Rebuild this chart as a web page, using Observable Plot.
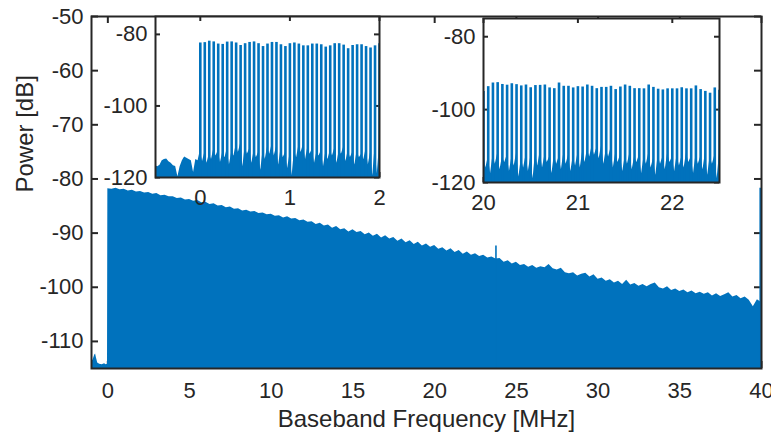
<!DOCTYPE html>
<html><head><meta charset="utf-8">
<script src="https://cdn.jsdelivr.net/npm/d3@7"></script>
<script src="https://cdn.jsdelivr.net/npm/@observablehq/plot@0.6"></script>
<style>
body{margin:0;background:#fff;}
#chart{position:relative;width:771px;height:432px;overflow:hidden;background:#fff;}
#chart svg{position:absolute;}
</style></head><body><div id="chart"></div>
<script>
// ---------------- data ----------------
const xLabel = ["Baseband Frequency [MHz]"];
const yLabel = ["Power [dB]"];
const mainXTicks = [0, 5, 10, 15, 20, 25, 30, 35, 40];
const mainYTicks = [-110, -100, -90, -80, -70, -60, -50];
const inset1XTicks = [0, 1, 2];
const inset2XTicks = [20, 21, 22];
const insetYTicks = [-120, -100, -80];

// main plot: noise below 0 MHz
const lowFreq  = [-1.0, -0.9, -0.8, -0.75, -0.7, -0.62, -0.5, -0.35, -0.2, -0.1, -0.02];
const lowPower = [-113.9, -113.4, -112.5, -112.3, -113.0, -114.0, -114.2, -114.3, -114.1, -114.3, -114.2];
// main plot: comb envelope from 0 to 40 MHz, every 0.25 MHz
const envStart = 0, envStep = 0.25;
const envPower = [
  -81.8, -81.9, -81.7, -82.0,   -81.9, -82.2, -82.1, -82.4,
  -82.3, -82.6, -82.5, -82.8,   -82.7, -83.1, -83.0, -83.3,
  -83.3, -83.6, -83.5, -83.9,   -83.8, -84.1, -84.0, -84.4,
  -84.3, -84.7, -84.6, -85.0,   -84.9, -85.3, -85.2, -85.6,
  -85.5, -85.9, -85.8, -86.1,   -86.0, -86.4, -86.3, -86.6,
  -86.5, -86.9, -86.8, -87.2,   -87.0, -87.4, -87.3, -87.7,
  -87.6, -88.0, -87.9, -88.4,   -88.2, -88.7, -88.5, -89.1,
  -88.8, -89.4, -89.2, -89.8,   -89.4, -89.9, -89.7, -90.3,
  -90.0, -90.6, -90.2, -90.9,   -90.5, -91.1, -90.8, -91.5,
  -91.1, -91.8, -91.4, -92.1,   -91.7, -92.4, -92.0, -92.6,
  -92.3, -93.0, -92.7, -93.3,   -92.9, -93.6, -93.2, -93.9,
  -93.5, -94.1, -93.8, -94.3,   -94.1, -94.6, -94.4, -94.8,
  -94.7, -95.4, -95.1, -95.7,   -95.4, -96.0, -95.8, -96.3,
  -96.0, -96.5, -96.2, -96.4,   -95.8, -96.6, -96.8, -96.5,
  -97.3, -97.5, -97.3, -97.9,   -97.6, -97.4, -98.1, -97.7,
  -98.5, -98.3, -98.9, -98.6,   -99.2, -98.9, -99.5, -98.7,
  -99.6, -99.3, -99.8, -99.5,   -99.9, -99.5, -99.2, -100.1,
  -100.3, -99.9, -100.6, -100.3, -100.8, -100.5, -101.0, -100.7,
  -101.2, -100.9, -101.3, -101.0, -101.6, -101.2, -101.7, -101.4,
  -101.0, -101.8, -101.5, -102.1, -101.8, -102.4, -103.6, -102.3,
  -102.8
];
// isolated spikes in the main plot
const spikeFreq  = [23.75, 39.92];
const spikePower = [-92.4, -81.7];

// inset 1 (-0.5 .. 2 MHz)
const inset1LineStart = 0, lineStep = 0.05;
const inset1Lines = [
  -82.4, -82.3, -81.9, -82.1, -82.7, -82.8, -82.15, -82.1, -82.4, -83.1,
  -82.6, -82.25, -82.1, -82.6, -83.4, -82.7, -82.25, -82.25, -82.9, -83.4,
  -82.6, -82.4, -82.7, -83.2, -83.2, -82.7, -82.7, -82.9, -83.55, -83.2,
  -82.6, -82.6, -83.0, -84.0, -83.1, -82.9, -82.9, -83.4, -83.8, -83.2,
  -82.6
];
const inset1NoiseStart = -0.5, noiseStep = 0.025;
const inset1Noise = [
  -116.7, -117.0, -116.6, -115.3, -115.0, -114.8, -115.6, -116.0, -116.7, -116.9,
  -119.8, -117.0, -115.3, -114.3, -114.6, -115.0, -115.3, -118.6, -115.0, -115.3,
  -112.5, -115.5, -113, -116, -113.5, -115, -112, -114, -112.5, -115.8,
  -113, -114.5, -112, -116.5, -113, -114, -111, -113, -110.5, -117,
  -111.5, -113.5, -112, -116, -112.5, -114.5, -113, -118, -112.5, -115,
  -111.5, -113.5, -110.8, -114, -111.5, -116.5, -112, -114.5, -113, -117.5,
  -113.5, -119.5, -112.5, -114.5, -111, -113, -110.8, -115, -111.5, -113.5,
  -112, -116, -113, -114, -112.5, -117, -113, -115, -112.5, -114,
  -111.8, -116, -112.5, -113.5, -111.5, -115.5, -112.5, -114.5, -113, -116.5,
  -112.5, -114.5, -113.5, -115, -112, -116.5, -113, -119.5, -111.5, -119,
  -111
];

// inset 2 (20 .. 22.5 MHz)
const inset2LineStart = 20;
const inset2Lines = [
  -95.0, -93.7, -92.7, -92.6, -93.1, -93.3, -92.9, -93.15, -93.5, -93.25,
  -94.0, -93.4, -93.35, -93.25, -94.05, -94.25, -92.7, -93.6, -93.6, -94.05,
  -93.7, -93.8, -93.25, -93.6, -94.25, -93.9, -93.9, -93.6, -94.5, -93.8,
  -93.25, -93.6, -94.25, -94.25, -94.3, -93.25, -93.9, -94.4, -94.6, -94.3,
  -94.3, -94.3, -94.0, -94.3, -94.3, -93.5, -94.5, -95.0, -95.5, -94.05,
  -94.7
];
const inset2NoiseStart = 20;
const inset2Noise = [
  -112, -116, -113, -117.5, -112.5, -115, -112, -116.5, -113, -114.5,
  -112.5, -117, -113, -115.5, -112, -118.5, -113.5, -116, -112.5, -117,
  -113, -119, -112, -115.5, -111.5, -116, -112.5, -114.5, -113, -117.5,
  -112.5, -115, -113, -116.5, -112, -115, -112.5, -117, -113, -115.5,
  -112, -116, -111.5, -114.5, -111, -113, -110, -112.5, -110.5, -113.5,
  -110, -115, -111, -113, -110.5, -116, -112, -114.5, -112.5, -117,
  -113, -115, -112, -116.5, -113, -114.5, -112.5, -117.5, -113, -115,
  -112, -116, -113.5, -118, -112.5, -115, -113, -116.5, -112, -114.5,
  -113, -117, -112.5, -115.5, -113, -116, -112, -114.5, -113, -117.5,
  -112.5, -115, -113, -116.5, -112, -118, -113, -115, -112.5, -119,
  -112
];

// ---------------- styling ----------------
const BLUE = "#0072BD", AX = "#262626";
const FONT = "'Liberation Sans', Arial, Helvetica, sans-serif";
const MAIN_FLOOR = -115, INSET_FLOOR = -120;
const TICK_FS = 22, LABEL_FS = 24;
const fmt = d => String(d);

const toRows = (start, step, arr) => arr.map((p, i) => ({f: +(start + i * step).toFixed(4), p}));
const mainData = [
  ...lowFreq.map((f, i) => ({f, p: lowPower[i]})),
  ...toRows(envStart, envStep, envPower)
];
const spikes = spikeFreq.map((f, i) => ({f, p: spikePower[i]}));

function tickMarks(xt, yt, W, H, len, sw) {
  return [
    Plot.ruleX(xt, {stroke: AX, strokeWidth: sw, insetTop: H - len}),
    Plot.ruleX(xt, {stroke: AX, strokeWidth: sw, insetBottom: H - len}),
    Plot.ruleY(yt, {stroke: AX, strokeWidth: sw, insetRight: W - len}),
    Plot.ruleY(yt, {stroke: AX, strokeWidth: sw, insetLeft: W - len})
  ];
}

const chart = document.getElementById("chart");

// main plot
const M = {l: 91, r: 10, t: 16, b: 64};
const MW = 771 - M.l - M.r, MH = 432 - M.t - M.b;
const main = Plot.plot({
  width: 771, height: 432,
  marginLeft: M.l, marginRight: M.r, marginTop: M.t, marginBottom: M.b,
  x: {domain: [-1, 40], label: null},
  y: {domain: [-115, -50], label: null},
  style: {fontFamily: FONT, fontSize: TICK_FS + "px", color: AX, background: "transparent", overflow: "visible"},
  marks: [
    ...tickMarks(mainXTicks, mainYTicks, MW, MH, 7, 2),
    Plot.areaY(mainData, {x: "f", y1: MAIN_FLOOR, y2: "p", fill: BLUE, clip: true}),
    Plot.ruleX(spikes, {x: "f", y1: MAIN_FLOOR, y2: "p", stroke: BLUE, strokeWidth: 1.6, clip: true}),
    Plot.frame({stroke: AX, strokeWidth: 2}),
    Plot.axisX(mainXTicks, {tickSize: 0, tickPadding: 14, tickFormat: fmt, label: null, fontSize: TICK_FS}),
    Plot.axisY(mainYTicks, {tickSize: 0, tickPadding: 8, tickFormat: fmt, label: null, fontSize: TICK_FS}),
    Plot.text(xLabel, {text: d => d, frameAnchor: "bottom", dy: 58, lineAnchor: "bottom", fontSize: LABEL_FS, fill: AX}),
    Plot.text(yLabel, {text: d => d, frameAnchor: "left", dx: -59, rotate: -90, lineAnchor: "bottom", fontSize: LABEL_FS, fill: AX})
  ]
});
main.style.left = "0px"; main.style.top = "0px";
chart.appendChild(main);

function inset(cfg) {
  const ml = 64, mr = 8, mt = 4, mb = 38;
  const svg = Plot.plot({
    width: cfg.w + ml + mr, height: cfg.h + mt + mb,
    marginLeft: ml, marginRight: mr, marginTop: mt, marginBottom: mb,
    x: {domain: cfg.xDomain, label: null},
    y: {domain: [-120, -75], label: null},
    style: {fontFamily: FONT, fontSize: TICK_FS + "px", color: AX, background: "transparent", overflow: "visible"},
    marks: [
      Plot.frame({fill: "white"}),
      ...tickMarks(cfg.xTicks, insetYTicks, cfg.w, cfg.h, 5, 2),
      Plot.areaY(cfg.noise, {x: "f", y1: INSET_FLOOR, y2: "p", fill: BLUE, clip: true}),
      Plot.ruleX(cfg.lines, {x: "f", y1: INSET_FLOOR, y2: "p", stroke: BLUE, strokeWidth: 2.6, clip: true}),
      Plot.frame({stroke: AX, strokeWidth: 2}),
      Plot.axisX(cfg.xTicks, {tickSize: 0, tickPadding: 12, tickFormat: fmt, label: null, fontSize: TICK_FS}),
      Plot.axisY(insetYTicks, {tickSize: 0, tickPadding: 8, tickFormat: fmt, label: null, fontSize: TICK_FS})
    ]
  });
  svg.style.left = (cfg.left - ml) + "px";
  svg.style.top = (cfg.top - mt) + "px";
  return svg;
}

chart.appendChild(inset({
  left: 155, top: 16, w: 224, h: 161,
  xDomain: [-0.5, 2], xTicks: inset1XTicks,
  lines: toRows(inset1LineStart, lineStep, inset1Lines),
  noise: toRows(inset1NoiseStart, noiseStep, inset1Noise)
}));
chart.appendChild(inset({
  left: 483, top: 18, w: 236, h: 164,
  xDomain: [20, 22.5], xTicks: inset2XTicks,
  lines: toRows(inset2LineStart, lineStep, inset2Lines),
  noise: toRows(inset2NoiseStart, noiseStep, inset2Noise)
}));
</script></body></html>
